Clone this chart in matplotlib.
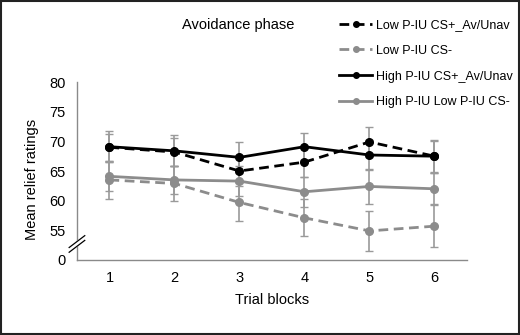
import matplotlib.pyplot as plt
from matplotlib.lines import Line2D

plt.rcParams["font.family"] = ["Liberation Sans", "DejaVu Sans"]

blocks = [1, 2, 3, 4, 5, 6]

low_cs_plus = [69.0, 68.2, 65.0, 66.5, 69.9, 67.5]
low_cs_plus_err = [2.3, 2.4, 2.5, 2.5, 2.5, 2.6]
low_cs_minus = [63.5, 62.9, 59.7, 57.1, 54.9, 55.7]
low_cs_minus_err = [3.2, 3.0, 3.2, 3.1, 3.4, 3.5]
high_cs_plus = [69.1, 68.4, 67.3, 69.1, 67.7, 67.5]
high_cs_plus_err = [2.6, 2.6, 2.6, 2.3, 2.6, 2.8]
high_cs_minus = [64.1, 63.5, 63.3, 61.5, 62.4, 62.0]
high_cs_minus_err = [2.5, 2.4, 2.5, 2.5, 2.9, 2.6]

labels = [
    "Low P-IU CS+_Av/Unav",
    "Low P-IU CS-",
    "High P-IU CS+_Av/Unav",
    "High P-IU Low P-IU CS-",
]

y_ticks = [50, 55, 60, 65, 70, 75, 80]
y_tick_labels = ["0", "55", "60", "65", "70", "75", "80"]

BLACK = "#000000"
GRAY = "#8c8c8c"
ERR = "#9a9a9a"

fig = plt.figure(figsize=(5.2, 3.35), dpi=100)
ax = fig.add_axes([0.148, 0.224, 0.75, 0.531])

series = [
    (low_cs_plus, low_cs_plus_err, BLACK, (0, (3.5, 2))),
    (low_cs_minus, low_cs_minus_err, GRAY, (0, (3.5, 2))),
    (high_cs_plus, high_cs_plus_err, BLACK, "-"),
    (high_cs_minus, high_cs_minus_err, GRAY, "-"),
]

# error bars underneath
for vals, errs, col, ls in series:
    ax.errorbar(blocks, vals, yerr=errs, fmt="none", ecolor=ERR,
                elinewidth=1.2, capsize=3, capthick=1, zorder=1)

handles = []
for (vals, errs, col, ls), lab in zip(series, labels):
    ax.plot(blocks, vals, color=col, linestyle=ls, linewidth=2,
            marker="o", markersize=5.5, zorder=3)
    handles.append(Line2D([], [], color=col, linestyle=ls, linewidth=2,
                          marker="o", markersize=4, label=lab))

ax.set_xlim(0.5, 6.5)
ax.set_ylim(50, 80)
ax.set_xticks(blocks)
ax.set_yticks(y_ticks)
ax.set_yticklabels(y_tick_labels)
ax.tick_params(length=0, labelsize=10.5, pad=8)
for s in ["top", "right"]:
    ax.spines[s].set_visible(False)
for s in ["left", "bottom"]:
    ax.spines[s].set_color("#8a8a8a")
    ax.spines[s].set_linewidth(1)

# axis break marks
tr = ax.get_yaxis_transform()
ax.fill([-0.02, 0.02, 0.02, -0.02], [51.3, 53.3, 54.1, 52.1],
        transform=tr, color="white", clip_on=False, zorder=4)
for y0 in (51.3, 52.1):
    ax.plot([-0.02, 0.02], [y0, y0 + 2.0], color=BLACK, linewidth=0.9,
            transform=tr, clip_on=False, zorder=5)

ax.set_xlabel("Trial blocks", fontsize=10.5, labelpad=6)
fig.text(0.062, 0.465, "Mean relief ratings", rotation=90,
         ha="center", va="center", fontsize=10.5)
fig.text(0.458, 0.925, "Avoidance phase", ha="center", va="center",
         fontsize=10.5)

fig.legend(handles=handles, loc="upper left", bbox_to_anchor=(0.643, 0.958),
           frameon=False, fontsize=9, handlelength=2.6, handletextpad=0.3,
           labelspacing=1.1, borderaxespad=0)

# outer frame
fig.patches.append(plt.Rectangle((0.002, 0.003), 0.996, 0.994,
                                 transform=fig.transFigure, fill=False,
                                 edgecolor="#222222", linewidth=1.5))

fig.savefig("out.png", dpi=100)
